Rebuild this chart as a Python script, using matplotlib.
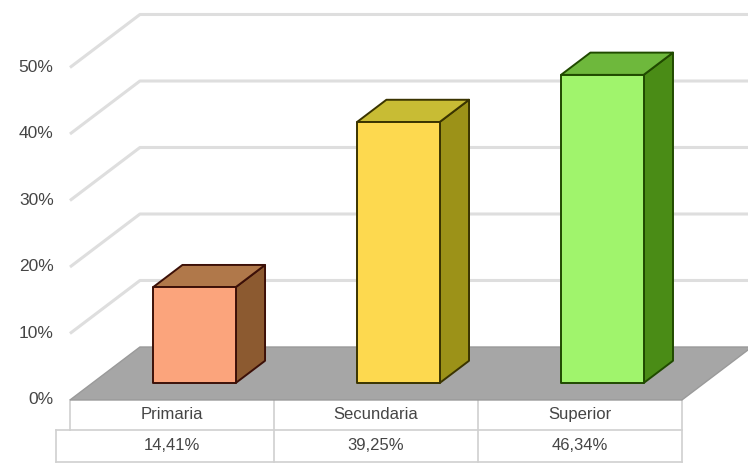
import numpy as np
import matplotlib.pyplot as plt
from matplotlib.patches import Polygon

# Nivel educativo alcanzado
categories = ["Primaria", "Secundaria", "Superior"]
values = [14.41, 39.25, 46.34]
ticks = [0, 10, 20, 30, 40, 50]

front_colors = ["#FBA47C", "#FDD94F", "#A0F46C"]
side_colors = ["#8C5A30", "#9C9218", "#4A8C16"]
top_colors = ["#B0784A", "#C8BC34", "#6EB83C"]
edge_colors = ["#3C1008", "#3A3400", "#204A00"]

# projection of the 3D box: depth z in [0, 1] shifts right and up
DX = 0.343   # category units for full depth
DY = 7.97    # percent units for full depth
BAR_W = 0.405
Z0, Z1 = 0.32, 0.74


def proj(x, y, z):
    return (x + z * DX, y + z * DY)


fig = plt.figure(figsize=(7.48, 4.66), dpi=100)
ax = fig.add_axes([0, 0, 1, 1])
ax.set_xlim(-0.843, 2.824)
ax.set_ylim(-9.925, 60.15)
ax.axis("off")

x_left, x_right = -0.5, len(categories) - 0.5
grid_c = "#DEDEDE"
txt_c = "#454545"

# gridlines on the left wall and back wall
for t in ticks[1:]:
    p0 = proj(x_left, t, 0)
    p1 = proj(x_left, t, 1)
    p2 = proj(x_right + 1, t, 1)
    ax.plot([p0[0], p1[0], p2[0]], [p0[1], p1[1], p2[1]],
            color=grid_c, lw=2.2, solid_capstyle="butt", zorder=1)
for t in ticks:
    ax.text(x_left - 0.08, t, f"{t}%", ha="right", va="center",
            fontsize=12.5, color=txt_c, family="Liberation Sans")

# floor
floor = [proj(x_left, 0, 0), proj(x_right, 0, 0),
         proj(x_right, 0, 1), proj(x_left, 0, 1)]
ax.add_patch(Polygon(floor, closed=True, facecolor="#A6A6A6",
                     edgecolor="#9A9A9A", lw=1, zorder=2))

# bars
for i, v in enumerate(values):
    xl, xr = i - BAR_W / 2, i + BAR_W / 2
    front = [proj(xl, 0, Z0), proj(xr, 0, Z0), proj(xr, v, Z0), proj(xl, v, Z0)]
    side = [proj(xr, 0, Z0), proj(xr, 0, Z1), proj(xr, v, Z1), proj(xr, v, Z0)]
    top = [proj(xl, v, Z0), proj(xr, v, Z0), proj(xr, v, Z1), proj(xl, v, Z1)]
    for poly, fc in ((side, side_colors[i]), (top, top_colors[i]),
                     (front, front_colors[i])):
        ax.add_patch(Polygon(poly, closed=True, facecolor=fc,
                             edgecolor=edge_colors[i], lw=1.4,
                             joinstyle="round", zorder=3))

# data table below the floor
row1 = -4.51
row2 = -9.32
key_x = x_left - 0.07
tab_c = "#D0D0D0"
ax.plot([x_left, x_right], [row1, row1], color=tab_c, lw=1.2, zorder=1)
ax.plot([key_x, x_right], [row2, row2], color=tab_c, lw=1.2, zorder=1)
ax.plot([x_left, x_left], [0, row1], color=tab_c, lw=1.2, zorder=1)
ax.plot([key_x, key_x], [row1, row2], color=tab_c, lw=1.2, zorder=1)
ax.plot([key_x, x_left], [row1, row1], color=tab_c, lw=1.2, zorder=1)
for b in np.arange(x_left + 1, x_right + 0.5, 1):
    ax.plot([b, b], [0, row2], color=tab_c, lw=1.2, zorder=1)

for i, (cat, v) in enumerate(zip(categories, values)):
    ax.text(i, row1 / 2, cat, ha="center", va="center", fontsize=12,
            color=txt_c, family="Liberation Sans")
    label = f"{v:.2f}%".replace(".", ",")
    ax.text(i, (row1 + row2) / 2, label, ha="center", va="center",
            fontsize=12, color=txt_c, family="Liberation Sans")

fig.savefig("out.png", dpi=100)
plt.close(fig)
